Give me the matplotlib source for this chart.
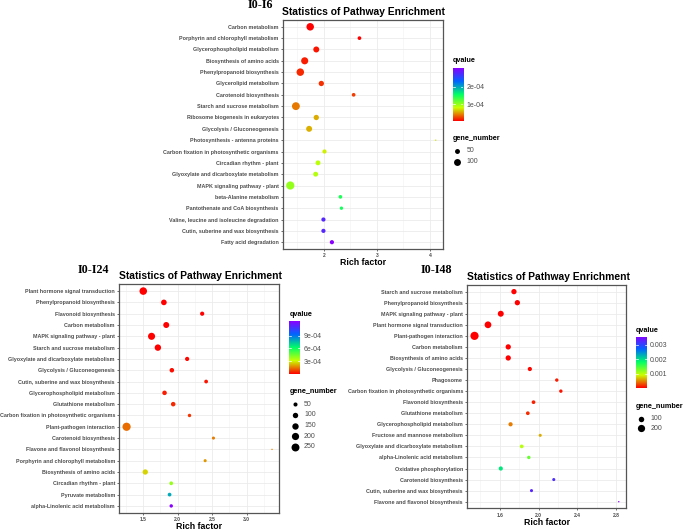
import numpy as np
import matplotlib
matplotlib.use("Agg")
import matplotlib.pyplot as plt
from matplotlib.colors import LinearSegmentedColormap, Normalize
from matplotlib.lines import Line2D

# ---------------- data ----------------
cats1 = ["Carbon metabolism", "Porphyrin and chlorophyll metabolism", "Glycerophospholipid metabolism",
         "Biosynthesis of amino acids", "Phenylpropanoid biosynthesis", "Glycerolipid metabolism",
         "Carotenoid biosynthesis", "Starch and sucrose metabolism", "Ribosome biogenesis in eukaryotes",
         "Glycolysis / Gluconeogenesis", "Photosynthesis - antenna proteins",
         "Carbon fixation in photosynthetic organisms", "Circadian rhythm - plant",
         "Glyoxylate and dicarboxylate metabolism", "MAPK signaling pathway - plant",
         "beta-Alanine metabolism", "Pantothenate and CoA biosynthesis",
         "Valine, leucine and isoleucine degradation", "Cutin, suberine and wax biosynthesis",
         "Fatty acid degradation"]
rich1 = [1.74, 2.67, 1.855, 1.636, 1.553, 1.95, 2.56, 1.47, 1.855, 1.72, 4.11, 2.01, 1.887, 1.843,
         1.364, 2.31, 2.33, 1.99, 1.99, 2.15]
genes1 = [120, 30, 74, 106, 120, 58, 30, 132, 58, 74, 15, 37, 49, 49, 145, 30, 26, 37, 37, 37]
q1 = [5.0e-6, 5.9e-6, 1.11e-5, 1.41e-5, 1.71e-5, 2.02e-5, 2.32e-5, 4.14e-5, 5.65e-5, 5.80e-5,
      7.32e-5, 7.62e-5, 8.68e-5, 8.98e-5, 1.02e-4, 1.47e-4, 1.50e-4, 2.78e-4, 2.79e-4, 3.08e-4]

cats2 = ["Plant hormone signal transduction", "Phenylpropanoid biosynthesis", "Flavonoid biosynthesis",
         "Carbon metabolism", "MAPK signaling pathway - plant", "Starch and sucrose metabolism",
         "Glyoxylate and dicarboxylate metabolism", "Glycolysis / Gluconeogenesis",
         "Cutin, suberine and wax biosynthesis", "Glycerophospholipid metabolism",
         "Glutathione metabolism", "Carbon fixation in photosynthetic organisms",
         "Plant-pathogen interaction", "Carotenoid biosynthesis", "Flavone and flavonol biosynthesis",
         "Porphyrin and chlorophyll metabolism", "Biosynthesis of amino acids",
         "Circadian rhythm - plant", "Pyruvate metabolism", "alpha-Linolenic acid metabolism"]
rich2 = [1.505, 1.803, 2.356, 1.837, 1.625, 1.716, 2.139, 1.918, 2.413, 1.8125, 1.9375, 2.173,
         1.264, 2.519, 3.365, 2.399, 1.534, 1.909, 1.885, 1.909]
genes2 = [221, 111, 54, 128, 192, 151, 54, 65, 41, 65, 65, 33, 270, 26, 10, 26, 96, 41, 41, 33]
q2 = [1e-10, 1e-8, 5e-7, 1e-6, 2e-6, 4e-6, 1.2e-5, 1.8e-5, 2.5e-5, 3.7e-5, 5.0e-5, 6.5e-5,
      1.35e-4, 1.55e-4, 1.75e-4, 1.85e-4, 2.6e-4, 3.9e-4, 7.9e-4, 1.24e-3]

cats3 = ["Starch and sucrose metabolism", "Phenylpropanoid biosynthesis", "MAPK signaling pathway - plant",
         "Plant hormone signal transduction", "Plant-pathogen interaction", "Carbon metabolism",
         "Biosynthesis of amino acids", "Glycolysis / Gluconeogenesis", "Phagosome",
         "Carbon fixation in photosynthetic organisms", "Flavonoid biosynthesis",
         "Glutathione metabolism", "Glycerophospholipid metabolism", "Fructose and mannose metabolism",
         "Glyoxylate and dicarboxylate metabolism", "alpha-Linolenic acid metabolism",
         "Oxidative phosphorylation", "Carotenoid biosynthesis", "Cutin, suberine and wax biosynthesis",
         "Flavone and flavonol biosynthesis"]
rich3 = [1.746, 1.781, 1.610, 1.478, 1.339, 1.687, 1.687, 1.910, 2.188, 2.230, 1.948, 1.889, 1.711,
         2.017, 1.826, 1.899, 1.610, 2.157, 1.927, 2.828]
genes3 = [92, 92, 124, 169, 270, 92, 92, 50, 28, 28, 36, 36, 50, 21, 36, 28, 50, 21, 21, 5]
q3 = [1e-12, 1e-11, 1e-10, 1e-10, 1e-10, 1e-9, 1e-8, 3.5e-5, 1.0e-4, 8.0e-5, 1.2e-4, 1.6e-4,
      4.4e-4, 6.0e-4, 9.8e-4, 1.33e-3, 1.9e-3, 3.15e-3, 3.22e-3, 3.55e-3]

labels = ["I0-I6", "I0-I24", "I0-I48"]
xticks_major = [[2, 3, 4], [1.5, 2.0, 2.5, 3.0], [1.6, 2.0, 2.4, 2.8]]
xticks_minor = [[1.5, 2.5, 3.5], [1.25, 1.75, 2.25, 2.75, 3.25], [1.4, 1.8, 2.2, 2.6]]
xtick_fmt = ["{:.0f}", "{:.1f}", "{:.1f}"]
q_ticks = [[1e-4, 2e-4], [3e-4, 6e-4, 9e-4], [0.001, 0.002, 0.003]]
q_tick_labels = [["1e-04", "2e-04"], ["3e-04", "6e-04", "9e-04"], ["0.001", "0.002", "0.003"]]
size_breaks = [[50, 100], [50, 100, 150, 200, 250], [100, 200]]

# ---------------- style / layout ----------------
W, H = 685, 532
fig = plt.figure(figsize=(W / 100, H / 100), dpi=100)
fig.patch.set_facecolor("white")
SANS = ["Liberation Sans", "DejaVu Sans"]
SERIF = ["Liberation Serif", "DejaVu Serif"]

cmap = LinearSegmentedColormap.from_list(
    "rb", ["#FF0000", "#CCFF00", "#00FF66", "#0066FF", "#8A00FF"])


def fx(x):
    return x / W


def fy(y):
    return 1 - y / H


def rect(l, t, r, b):
    return [fx(l), fy(b), (r - l) / W, (b - t) / H]


panels = [
    dict(cats=cats1, rich=rich1, genes=genes1, q=q1, ax=(283, 20, 443, 249),
         title=(363, 11.7), lab=(260, 5.5), xl=(362.7, 262.5),
         qt=(452.7, 60.7), bar=(452.7, 68, 463.3, 120.7), gt=(452.7, 138.7),
         items=[150.7, 161.7], dotx=457.3, labx=466.7),
    dict(cats=cats2, rich=rich2, genes=genes2, q=q2, ax=(119.3, 284.3, 279.3, 512.7),
         title=(200, 275.7), lab=(93, 270), xl=(199, 526.5),
         qt=(289.3, 315), bar=(289.3, 321, 300, 374), gt=(289.3, 391.7),
         items=[404.3, 415, 425.7, 436.3, 447], dotx=295, labx=304),
    dict(cats=cats3, rich=rich3, genes=genes3, q=q3, ax=(467.3, 285, 626, 508.3),
         title=(548, 276.7), lab=(436, 270), xl=(547, 522.5),
         qt=(635.7, 330), bar=(635.7, 336.7, 646.7, 388.3), gt=(635.7, 406),
         items=[418.7, 428.3], dotx=640.7, labx=650.7),
]

DMIN, DMAX = 1.4, 8.2  # point diameters in px


def diam_pt(v, vmin, vmax):
    t = (np.asarray(v, float) - vmin) / (vmax - vmin)
    t = np.clip(t, 0, None)
    return (DMIN + (DMAX - DMIN) * np.sqrt(t)) * 0.72


for i, p in enumerate(panels):
    l, t, r, b = p["ax"]
    ax = fig.add_axes(rect(l, t, r, b))
    n = len(p["cats"])
    ypos = np.arange(n)
    genes = np.array(p["genes"], float)
    q = np.array(p["q"], float)
    vmin, vmax = genes.min(), genes.max()
    norm = Normalize(vmin=q.min(), vmax=q.max())
    d = diam_pt(genes, vmin, vmax)
    ax.scatter(p["rich"], ypos, s=d ** 2, c=q, cmap=cmap, norm=norm, linewidths=0, zorder=3)
    ax.set_ylim(n - 1 + 0.6, -0.6)
    ax.margins(x=0.05)
    ax.set_yticks(ypos)
    ax.set_yticklabels(p["cats"], fontsize=3.9, fontweight="bold", color="#4D4D4D", family=SANS)
    ax.set_xticks(xticks_major[i])
    ax.set_xticklabels([xtick_fmt[i].format(v) for v in xticks_major[i]], fontsize=3.6,
                       fontweight="bold", color="#4D4D4D", family=SANS)
    ax.set_xticks(xticks_minor[i], minor=True)
    ax.tick_params(axis="both", which="major", length=1.6, width=0.5, color="#333333", pad=1.5)
    ax.tick_params(axis="x", which="minor", length=0)
    ax.grid(True, which="major", color="#EBEBEB", linewidth=0.6, zorder=0)
    ax.grid(True, which="minor", axis="x", color="#F2F2F2", linewidth=0.4, zorder=0)
    ax.set_axisbelow(True)
    for s in ax.spines.values():
        s.set_color("#555555")
        s.set_linewidth(0.9)

    fig.text(fx(p["title"][0]), fy(p["title"][1]), "Statistics of Pathway Enrichment",
             ha="center", va="center", fontsize=7.4, fontweight="bold", family=SANS, color="black")
    fig.text(fx(p["lab"][0]), fy(p["lab"][1]), labels[i], ha="center", va="center",
             fontsize=8.7, fontweight="bold", family=SERIF, color="black")
    fig.text(fx(p["xl"][0]), fy(p["xl"][1]), "Rich factor", ha="center", va="center",
             fontsize=6.3, fontweight="bold", family=SANS, color="black")

    # colour legend
    fig.text(fx(p["qt"][0]), fy(p["qt"][1]), "qvalue", ha="left", va="center",
             fontsize=5.2, fontweight="bold", family=SANS)
    bl, bt, br, bb = p["bar"]
    cax = fig.add_axes(rect(bl, bt, br, bb))
    grad = np.linspace(q.min(), q.max(), 256).reshape(-1, 1)
    cax.imshow(grad, aspect="auto", origin="lower", cmap=cmap, norm=norm,
               extent=[0, 1, q.min(), q.max()])
    cax.set_xticks([])
    cax.yaxis.tick_right()
    cax.set_yticks(q_ticks[i])
    cax.set_yticklabels(q_tick_labels[i], fontsize=5.0, color="#4D4D4D", family=SANS)
    cax.tick_params(axis="y", length=0, pad=2.5)
    for tv in q_ticks[i]:
        cax.plot([0, 0.2], [tv, tv], color="white", lw=0.5)
        cax.plot([0.8, 1], [tv, tv], color="white", lw=0.5)
    cax.set_xlim(0, 1)
    cax.set_ylim(q.min(), q.max())
    for s in cax.spines.values():
        s.set_visible(False)

    # size legend
    fig.text(fx(p["gt"][0]), fy(p["gt"][1]), "gene_number", ha="left", va="center",
             fontsize=5.2, fontweight="bold", family=SANS)
    bd = diam_pt(size_breaks[i], vmin, vmax)
    for k, v in enumerate(size_breaks[i]):
        yy = p["items"][k]
        fig.add_artist(Line2D([fx(p["dotx"])], [fy(yy)], marker="o", markersize=bd[k],
                              markeredgewidth=0, color="black", linestyle="none",
                              transform=fig.transFigure))
        fig.text(fx(p["labx"]), fy(yy), str(v), ha="left", va="center", fontsize=5.0,
                 color="#4D4D4D", family=SANS)

fig.savefig("out.png", dpi=100, facecolor="white")
